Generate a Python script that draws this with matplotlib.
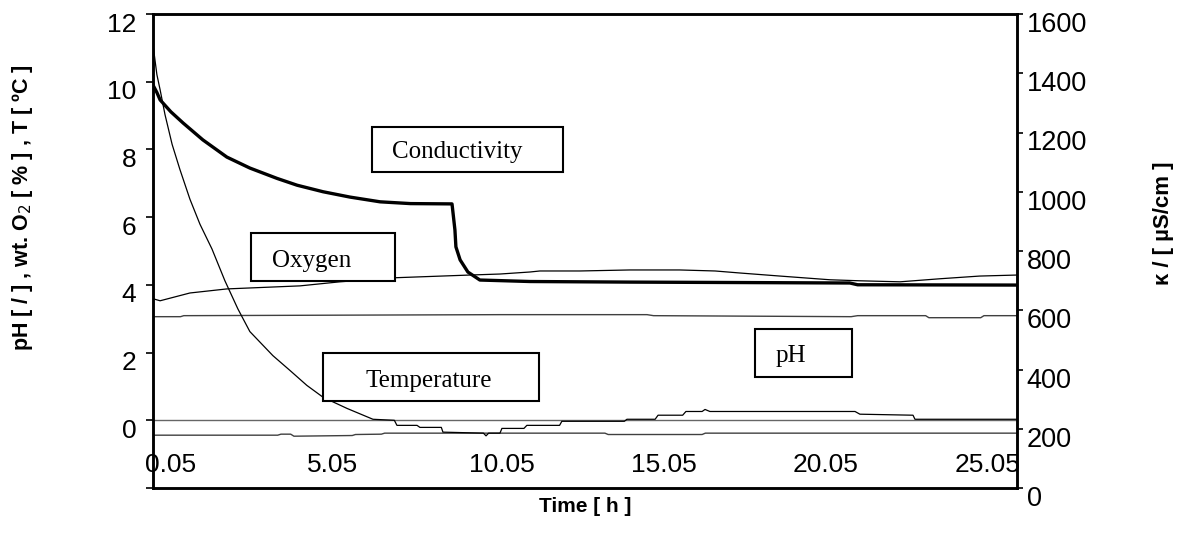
import numpy as np
import matplotlib.pyplot as plt
import matplotlib.transforms as mtransforms
from matplotlib.patches import Rectangle

plt.rcParams['font.family'] = ['Liberation Sans', 'DejaVu Sans']

W, H = 1177, 547

# conductivity, right axis (uS/cm)
t_cond = [0.05, 0.17, 0.27, 0.6, 0.98, 1.59, 2.33, 3.04, 3.88, 4.5, 5.3, 6.13, 7.06, 8.0, 9.28,
          9.37, 9.40, 9.53, 9.77, 10.14, 11.69, 14.77, 21.56, 21.8, 26.72]
cond = [1360, 1335, 1310, 1270, 1232, 1175, 1117, 1080, 1045, 1022, 1000, 982, 966, 960, 959,
        871, 814, 770, 729, 702, 697, 695, 692, 686, 685]

# oxygen, left axis (wt %)
t_oxy = [0.05, 0.27, 1.19, 2.33, 4.59, 5.82, 7.52, 9.83, 10.76, 11.69, 11.99, 13.23,
         14.77, 16.31, 17.40, 18.17, 19.40, 20.95, 21.87, 23.11, 24.34, 25.57, 26.72]
oxy = [3.59, 3.53, 3.76, 3.88, 3.97, 4.09, 4.21, 4.29, 4.32, 4.38, 4.41, 4.41,
       4.44, 4.44, 4.41, 4.35, 4.26, 4.15, 4.12, 4.09, 4.18, 4.26, 4.29]

# pH, left axis
t_ph = [0.05, 0.9, 1.0, 10.76, 15.3, 15.5, 21.6, 21.8, 23.9, 24.0, 25.6, 25.7, 26.72]
ph = [3.06, 3.06, 3.09, 3.12, 3.12, 3.09, 3.06, 3.09, 3.09, 3.03, 3.03, 3.09, 3.09]

# temperature, left axis (deg C)
t_temp = [0.05, 0.17, 0.27, 0.42, 0.64, 0.88, 1.19, 1.50, 1.87, 2.27, 2.67, 3.04,
          3.75, 4.28, 4.80, 5.30, 6.04, 6.84, 7.5, 7.58, 8.2, 8.29, 8.95, 9.0,
          10.25, 10.33, 10.41, 10.76, 10.82, 11.5, 11.59, 12.6, 12.67, 14.6,
          14.68, 15.55, 15.64, 16.4, 16.5, 17.0, 17.09, 17.24, 21.72, 21.87,
          23.51, 23.57, 26.72]
temp = [11.09, 10.21, 9.76, 9.03, 8.15, 7.41, 6.53, 5.79, 5.06, 4.12, 3.29, 2.62,
        1.91, 1.47, 1.03, 0.68, 0.35, 0.03, 0.0, -0.15, -0.15, -0.21, -0.21, -0.35,
        -0.38, -0.46, -0.38, -0.38, -0.24, -0.24, -0.15, -0.15, -0.03, -0.03,
        0.03, 0.03, 0.15, 0.15, 0.26, 0.26, 0.32, 0.26, 0.26, 0.18,
        0.15, 0.03, 0.03]

# unlabeled bottom trace, left axis
t_base = [0.05, 3.9, 4.0, 4.3, 4.4, 6.2, 6.3, 7.1, 7.2, 14.0, 14.1, 17.0, 17.1, 26.72]
base = [-0.44, -0.44, -0.41, -0.41, -0.47, -0.45, -0.42, -0.41, -0.38, -0.38, -0.42, -0.42, -0.38, -0.38]

left_ticks = list(range(-2, 13, 2))
left_labels = [''] + [str(v) for v in left_ticks[1:]]
right_ticks = list(range(0, 1601, 200))
x_ticks = [0.05, 5.05, 10.05, 15.05, 20.05, 25.05]
x_labels = ['0.05', '5.05', '10.05', '15.05', '20.05', '25.05']

fig = plt.figure(figsize=(W / 100, H / 100), dpi=100)
ax = fig.add_axes([153 / W, 1 - 488 / H, (1017 - 153) / W, (488 - 14) / H])
ax2 = ax.twinx()

ax.axhline(0, color='0.4', lw=1.0)
ax.plot(t_base, base, color='0.25', lw=1.0)
ax.plot(t_ph, ph, color='0.25', lw=1.0)
ax.plot(t_oxy, oxy, color='black', lw=0.9)
ax.plot(t_temp, temp, color='black', lw=0.9)
ax2.plot(t_cond, cond, color='black', lw=2.4)

ax.set_xlim(0.05, 26.72)
ax.set_ylim(-2, 12)
ax2.set_ylim(0, 1600)

ax.set_yticks(left_ticks)
ax.set_yticklabels(left_labels)
ax2.set_yticks(right_ticks)
ax2.set_yticklabels([str(v) for v in right_ticks])
ax.set_xticks(x_ticks)
ax.set_xticklabels(x_labels, ha='left')

ax.tick_params(axis='y', direction='out', length=5, width=1.2, labelsize=19, pad=7)
ax2.tick_params(axis='y', direction='out', length=4, width=1.2, labelsize=19.5, pad=3)
ax.tick_params(axis='x', length=0, labelsize=19, pad=-25)

down = mtransforms.ScaledTranslation(0, -8 / 100, fig.dpi_scale_trans)
for lab in ax.get_yticklabels() + ax2.get_yticklabels():
    lab.set_transform(lab.get_transform() + down)
shift = mtransforms.ScaledTranslation(-8 / 100, 0, fig.dpi_scale_trans)
for lab in ax.get_xticklabels():
    lab.set_transform(lab.get_transform() + shift)

for a in (ax, ax2):
    for s in a.spines.values():
        s.set_linewidth(1.8)

fig.text(23 / W, 1 - 208 / H, 'pH [ / ] , wt. O$_2$ [ % ] , T [ ºC ]', rotation=90,
         ha='center', va='center', fontsize=15.5, fontweight='bold')
fig.text(1163 / W, 1 - 223 / H, 'κ / [ µS/cm ]', rotation=90,
         ha='center', va='center', fontsize=16, fontweight='bold')
fig.text(585 / W, 1 - 507 / H, 'Time [ h ]', ha='center', va='center',
         fontsize=15, fontweight='bold')

# label boxes: (left, top, right, bottom, text left, baseline) in pixels
boxes = [('Conductivity', 372, 127, 563, 172, 392, 158),
         ('Oxygen', 251, 233, 395, 281, 272, 267),
         ('Temperature', 323, 353, 539, 401, 366, 387),
         ('pH', 755, 329, 852, 377, 776, 362)]
for name, x0, y0, x1, y1, tx, ty in boxes:
    fig.add_artist(Rectangle((x0 / W, 1 - y1 / H), (x1 - x0) / W, (y1 - y0) / H,
                             transform=fig.transFigure, facecolor='white',
                             edgecolor='black', lw=1.5, zorder=5))
    fig.text(tx / W, 1 - ty / H, name, family='Liberation Serif', fontsize=18,
             ha='left', va='baseline', zorder=6)

fig.savefig('out.png', dpi=100)
